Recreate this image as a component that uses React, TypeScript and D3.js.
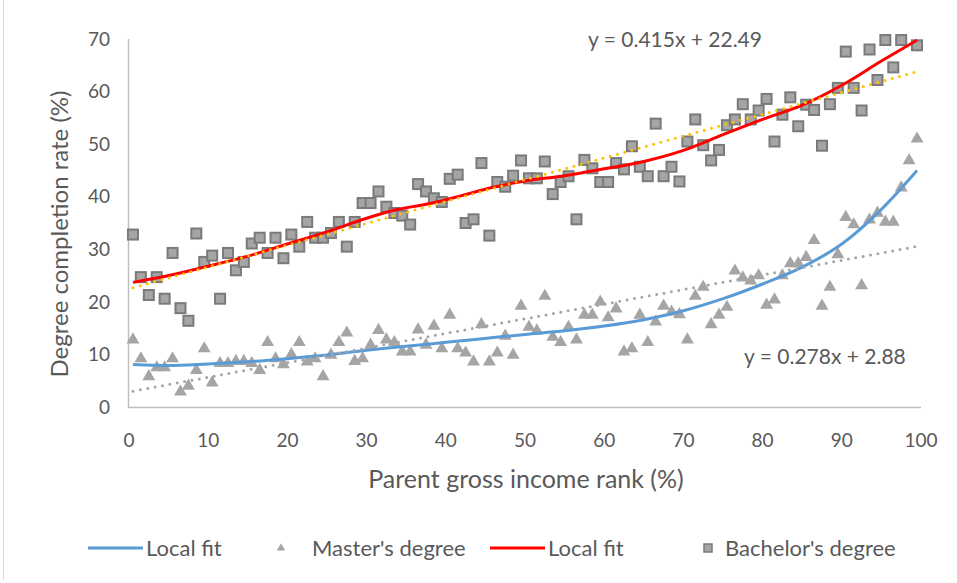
import React from 'react';
import * as d3 from 'd3';

// Bachelor's degree completion by parent income rank (squares)
const bachelorRank = [0.5,1.5,2.5,3.5,4.5,5.5,6.5,7.5,8.5,9.5,10.5,11.5,12.5,13.5,14.5,15.5,16.5,17.5,18.5,19.5,20.5,21.5,22.5,23.5,24.5,25.5,26.5,27.5,28.5,29.5,30.5,31.5,32.5,33.5,34.5,35.5,36.5,37.5,38.5,39.5,40.5,41.5,42.5,43.5,44.5,45.5,46.5,47.5,48.5,49.5,50.5,51.5,52.5,53.5,54.5,55.5,56.5,57.5,58.5,59.5,60.5,61.5,62.5,63.5,64.5,65.5,66.5,67.5,68.5,69.5,70.5,71.5,72.5,73.5,74.5,75.5,76.5,77.5,78.5,79.5,80.5,81.5,82.5,83.5,84.5,85.5,86.5,87.5,88.5,89.5,90.5,91.5,92.5,93.5,94.5,95.5,96.5,97.5,99.5];
const bachelorRate = [32.8,24.7,21.3,24.7,20.6,29.3,18.8,16.4,33.0,27.6,28.8,20.6,29.3,26.0,27.6,31.1,32.2,29.3,32.2,28.3,32.8,30.5,35.2,32.2,32.2,33.1,35.2,30.5,35.2,38.8,38.8,41.0,38.1,36.9,36.4,34.7,42.4,41.0,39.7,39.0,43.4,44.2,35.0,35.7,46.4,32.6,42.8,41.9,44.0,46.9,43.5,43.5,46.7,40.5,42.8,43.9,35.7,47.0,45.4,42.8,42.8,46.4,45.2,49.6,45.7,43.9,53.9,43.9,45.7,42.9,50.5,54.7,49.8,46.9,48.9,53.6,54.7,57.6,54.7,56.4,58.6,50.5,55.6,58.9,53.4,57.5,56.5,49.7,57.6,60.7,67.6,60.7,56.4,68.0,62.2,69.8,64.6,69.8,68.8];

// Master's degree completion (triangles)
const masterRank = [0.5,1.5,2.5,3.5,4.5,5.5,6.5,7.5,8.5,9.5,10.5,11.5,12.5,13.5,14.5,15.5,16.5,17.5,18.5,19.5,20.5,21.5,22.5,23.5,24.5,25.5,26.5,27.5,28.5,29.5,30.5,31.5,32.5,33.5,34.5,35.5,36.5,37.5,38.5,39.5,40.5,41.5,42.5,43.5,44.5,45.5,46.5,47.5,48.5,49.5,50.5,51.5,52.5,53.5,54.5,55.5,56.5,57.5,58.5,59.5,60.5,61.5,62.5,63.5,64.5,65.5,66.5,67.5,68.5,69.5,70.5,71.5,72.5,73.5,74.5,75.5,76.5,77.5,78.5,79.5,80.5,81.5,82.5,83.5,84.5,85.5,86.5,87.5,88.5,89.5,90.5,91.5,92.5,93.5,94.5,95.5,96.5,97.5,98.5,99.5];
const masterRate = [12.8,9.2,5.8,7.5,7.5,9.2,2.9,4.0,7.0,11.1,4.6,8.3,8.3,8.7,8.7,8.3,7.0,12.3,9.2,8.1,10.0,12.3,8.6,9.2,5.8,9.9,12.3,14.1,8.7,9.2,11.8,14.6,12.8,12.3,10.5,10.5,14.7,11.8,15.4,11.1,17.5,11.1,10.3,8.6,15.7,8.6,10.3,13.5,9.9,19.2,15.2,14.5,21.1,13.3,12.3,15.2,12.8,17.5,17.5,20.0,17.0,18.7,10.5,11.1,17.5,12.3,16.2,19.2,18.1,17.6,12.8,21.1,22.8,15.7,17.5,19.0,25.9,24.6,24.0,25.0,19.4,20.4,25.0,27.3,27.3,28.5,31.7,19.2,22.8,29.0,36.1,34.7,23.1,35.6,36.9,35.2,35.2,41.7,46.9,51.0];

// local fit curves
const fitRank = [0.5,5,10,15,20,25,30,34,38,42,46,50,55,60,65,70,75,80,85,90,95,99.5];
const masterFit = [8.1,7.9,8.2,8.6,9.2,9.9,10.8,11.4,12.0,12.6,13.2,13.8,14.5,15.4,16.6,18.3,20.6,23.4,26.6,31.0,37.6,45.0];
const bachelorFit = [23.7,25.0,26.8,28.7,31.0,33.3,35.9,37.6,38.7,40.2,41.8,43.0,44.0,45.3,46.7,48.8,51.8,54.7,57.4,61.2,65.8,69.8];

// linear trendlines (from the chart labels)
const bachelorTrend = { slope: 0.415, intercept: 22.49 };
const masterTrend = { slope: 0.278, intercept: 2.88 };

const xTicks = [0, 10, 20, 30, 40, 50, 60, 70, 80, 90, 100];
const yTicks = [0, 10, 20, 30, 40, 50, 60, 70];

const W = 957, H = 583;
const font = 'Lato, "Open Sans", sans-serif';
const textColor = '#595959';

export default function App() {
  const x = d3.scaleLinear().domain([0, 100]).range([129, 921]);
  const y = d3.scaleLinear().domain([0, 70]).range([407, 39]);

  const fitLine = d3.line<[number, number]>()
    .x(d => x(d[0]))
    .y(d => y(d[1]))
    .curve(d3.curveMonotoneX);

  const masterFitPts = fitRank.map((r, i) => [r, masterFit[i]] as [number, number]);
  const bachelorFitPts = fitRank.map((r, i) => [r, bachelorFit[i]] as [number, number]);

  const trendPts = (t: { slope: number; intercept: number }) =>
    [0.5, 99.5].map(r => [r, t.slope * r + t.intercept] as [number, number]);
  const straight = d3.line<[number, number]>().x(d => x(d[0])).y(d => y(d[1]));

  const tri = d3.symbol().type(d3.symbolTriangle).size(72)();

  return (
    <div style={{ position: 'absolute', left: 0, top: 0 }}>
      <svg width={W} height={H} style={{ display: 'block', fontFamily: font }}>
        <rect x={0} y={0} width={W} height={H} fill="#fff" />
        <line x1={3.5} y1={0} x2={3.5} y2={580} stroke="#D9D9D9" />

        {/* axes */}
        <line x1={x(0) - 0.5} y1={y(70)} x2={x(0) - 0.5} y2={y(0)} stroke="#BFBFBF" strokeWidth={1.5} />
        <line x1={x(0) - 1} y1={y(0) + 0.5} x2={x(100)} y2={y(0) + 0.5} stroke="#BFBFBF" strokeWidth={1.5} />

        {yTicks.map(t => (
          <text key={t} x={110} y={y(t)} dy="0.35em" textAnchor="end" fontSize={19} fill={textColor}>{t}</text>
        ))}
        {xTicks.map(t => (
          <text key={t} x={x(t)} y={440} dy="0.35em" textAnchor="middle" fontSize={19} fill={textColor}>{t}</text>
        ))}

        <text x={526} y={479} dy="0.35em" textAnchor="middle" fontSize={25} fill={textColor}>Parent gross income rank (%)</text>
        <text transform={`translate(60,234) rotate(-90)`} dy="0.35em" textAnchor="middle" fontSize={24} fill={textColor}>Degree completion rate (%)</text>

        {/* master's points */}
        {masterRank.map((r, i) => (
          <path key={'m' + i} d={tri} transform={`translate(${x(r)},${y(masterRate[i])})`} fill="#A5A5A5" />
        ))}

        {/* bachelor's points */}
        {bachelorRank.map((r, i) => (
          <rect key={'b' + i} x={x(r) - 5} y={y(bachelorRate[i]) - 5} width={10} height={10}
            fill="#A5A5A5" stroke="#7A7A7A" strokeWidth={2} />
        ))}

        {/* local fits */}
        <path d={fitLine(masterFitPts) || ''} fill="none" stroke="#5B9BD5" strokeWidth={3} />
        <path d={fitLine(bachelorFitPts) || ''} fill="none" stroke="#FF0000" strokeWidth={3} />

        {/* linear trendlines */}
        <path d={straight(trendPts(masterTrend)) || ''} fill="none" stroke="#A5A5A5" strokeWidth={3}
          strokeDasharray="0 7.5" strokeLinecap="round" />
        <path d={straight(trendPts(bachelorTrend)) || ''} fill="none" stroke="#FFC000" strokeWidth={3}
          strokeDasharray="0 7.5" strokeLinecap="round" />

        <text x={588} y={40} dy="0.35em" fontSize={21} fill={textColor}>
          {`y = ${bachelorTrend.slope}x + ${bachelorTrend.intercept}`}
        </text>
        <text x={744} y={357} dy="0.35em" fontSize={21} fill={textColor}>
          {`y = ${masterTrend.slope}x + ${masterTrend.intercept}`}
        </text>

        {/* legend */}
        <g fontSize={22} fill={textColor}>
          <line x1={88} y1={548} x2={143} y2={548} stroke="#5B9BD5" strokeWidth={3} />
          <text x={146} y={548} dy="0.35em">Local fit</text>
          <path d={d3.symbol().type(d3.symbolTriangle).size(30)() || ''} transform="translate(281,548)" fill="#A5A5A5" />
          <text x={312} y={548} dy="0.35em">Master's degree</text>
          <line x1={490} y1={548} x2={545} y2={548} stroke="#FF0000" strokeWidth={3} />
          <text x={548} y={548} dy="0.35em">Local fit</text>
          <rect x={704} y={544} width={8} height={8} fill="#A5A5A5" stroke="#7A7A7A" strokeWidth={1.5} />
          <text x={725} y={548} dy="0.35em">Bachelor's degree</text>
        </g>
      </svg>
    </div>
  );
}
